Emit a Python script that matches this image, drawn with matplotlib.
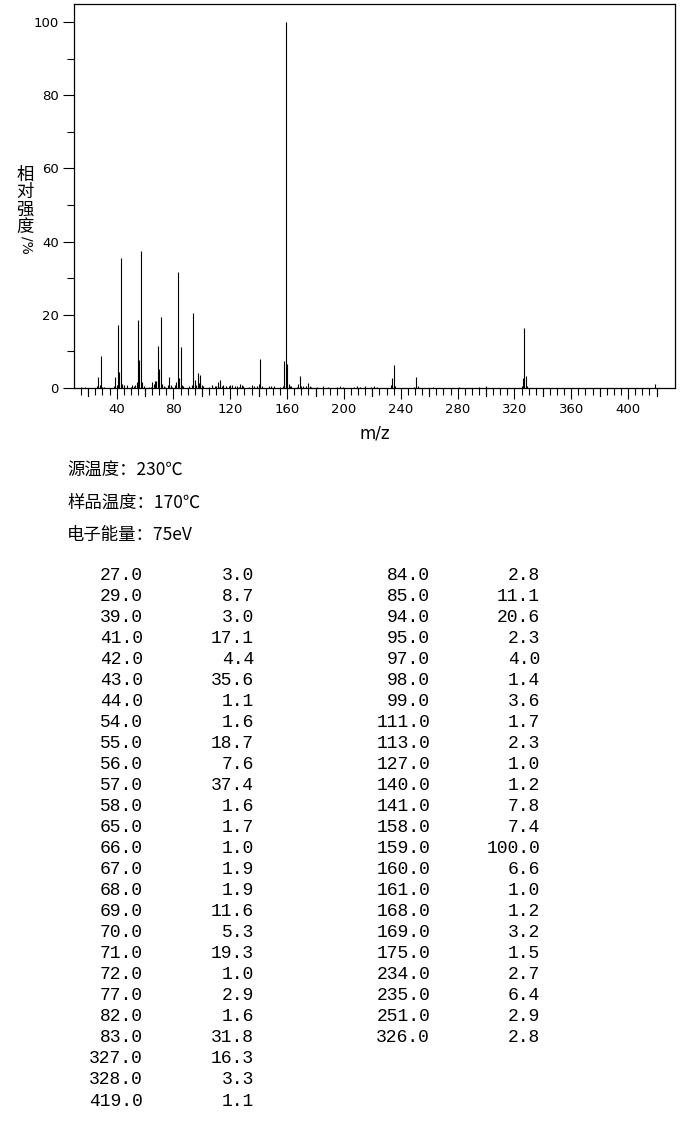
import numpy as np
import matplotlib
matplotlib.use('Agg')
import matplotlib.pyplot as plt
from matplotlib.ticker import MultipleLocator

plt.rcParams['font.family'] = ['DejaVu Sans', 'Noto Sans CJK SC']

# Peaks listed in the table (m/z, relative intensity %)
mz = [27, 29, 39, 41, 42, 43, 44, 54, 55, 56, 57, 58, 65, 66, 67, 68, 69, 70,
      71, 72, 77, 82, 83, 84, 85, 94, 95, 97, 98, 99, 111, 113, 127, 140, 141,
      158, 159, 160, 161, 168, 169, 175, 234, 235, 251, 326, 327, 328, 419]
intensity = [3.0, 8.7, 3.0, 17.1, 4.4, 35.6, 1.1, 1.6, 18.7, 7.6, 37.4, 1.6,
             1.7, 1.0, 1.9, 1.9, 11.6, 5.3, 19.3, 1.0, 2.9, 1.6, 31.8, 2.8,
             11.1, 20.6, 2.3, 4.0, 1.4, 3.6, 1.7, 2.3, 1.0, 1.2, 7.8, 7.4,
             100.0, 6.6, 1.0, 1.2, 3.2, 1.5, 2.7, 6.4, 2.9, 2.8, 16.3, 3.3, 1.1]

# Small peaks below 1 %
minor_mz = [15, 18, 26, 28, 30, 31, 38, 40, 45, 47, 50, 51, 52, 53, 59, 63, 64,
            73, 74, 76, 78, 79, 81, 86, 87, 91, 93, 96, 100, 101, 105, 107, 109,
            110, 112, 114, 115, 117, 119, 120, 121, 123, 125, 126, 128, 129, 133,
            135, 137, 139, 142, 147, 149, 151, 155, 157, 162, 163, 167, 170, 171,
            173, 176, 177, 181, 185, 189, 195, 197, 199, 207, 209, 211, 215, 219,
            221, 223, 233, 236, 249, 252, 263, 281, 295, 300, 325, 329]
minor_int = [0.4, 0.3, 0.5, 0.9, 0.4, 0.3, 0.6, 0.8, 0.7, 0.9, 0.4, 0.7, 0.5,
             0.9, 0.5, 0.4, 0.4, 0.5, 0.4, 0.8, 0.9, 0.4, 0.9, 0.7, 0.5, 0.6,
             0.8, 0.9, 0.8, 0.5, 0.4, 0.8, 0.6, 0.5, 0.4, 0.5, 0.7, 0.5, 0.6,
             0.9, 0.7, 0.5, 0.6, 0.4, 0.9, 0.5, 0.4, 0.7, 0.6, 0.5, 0.6, 0.6,
             0.5, 0.6, 0.4, 0.5, 0.6, 0.5, 0.4, 0.5, 0.6, 0.5, 0.6, 0.4, 0.4,
             0.5, 0.4, 0.4, 0.5, 0.4, 0.4, 0.5, 0.4, 0.5, 0.4, 0.5, 0.4, 0.8,
             0.6, 0.4, 0.5, 0.4, 0.4, 0.4, 0.5, 0.5, 0.5]

conditions = ['源温度：230℃', '样品温度：170℃', '电子能量：75eV']

W, H = 680, 1134
fig = plt.figure(figsize=(W / 100, H / 100), dpi=100)


def px(x, y):
    return x / W, 1 - y / H


ax = fig.add_axes([74 / W, 1 - 388 / H, (675 - 74) / W, (388 - 4) / H])
ax.vlines(minor_mz, 0, minor_int, color='black', lw=0.8)
ax.vlines(mz, 0, intensity, color='black', lw=0.8)
ax.set_xlim(10, 433)
ax.set_ylim(0, 104.9)

ax.yaxis.set_major_locator(MultipleLocator(20))
ax.yaxis.set_minor_locator(MultipleLocator(10))
ax.set_xticks(np.arange(40, 401, 40), minor=False)
ax.set_xticks([t for t in range(15, 425, 5) if t % 40 != 0], minor=True)
ax.tick_params(which='major', direction='out', length=8, width=0.8,
               labelsize=9.5, pad=3)
ax.tick_params(which='minor', direction='out', length=5, width=0.8)
# longer ticks at the unlabelled multiples of 20
for t in [20, 60, 100, 140, 180, 220, 260, 300, 340, 380, 420]:
    ax.plot([t, t], [0, -2.3], color='black', lw=0.8, clip_on=False)
for s in ax.spines.values():
    s.set_linewidth(0.9)

ax.set_xlabel('m/z', fontsize=12, labelpad=6)

# vertical stacked y label
fig.text(*px(25, 201), '相\n对\n强\n度', family=['Noto Sans CJK SC'],
         fontsize=12.5, ha='center', va='center', linespacing=0.95)
fig.text(*px(26, 245), '/%', family=['DejaVu Sans'], fontsize=10,
         rotation=-90, ha='center', va='center')

for i, line in enumerate(conditions):
    fig.text(*px(67, 471 + 32 * i), line,
             family=['Noto Sans CJK SC', 'DejaVu Sans'],
             fontsize=12.5, ha='left', va='center')

# peak table: 23 rows per column, overflow rows back in the first column
left_rows = list(range(0, 23)) + list(range(46, 49))
right_rows = list(range(23, 46))
for col, rows in [((143, 254), left_rows), ((430, 540), right_rows)]:
    for j, k in enumerate(rows):
        y = 575 + 21.04 * j
        fig.text(*px(col[0], y), f'{mz[k]:.1f}', family='Liberation Mono',
                 fontsize=13, ha='right', va='center')
        fig.text(*px(col[1], y), f'{intensity[k]:.1f}', family='Liberation Mono',
                 fontsize=13, ha='right', va='center')

fig.savefig('out.png', dpi=100)
